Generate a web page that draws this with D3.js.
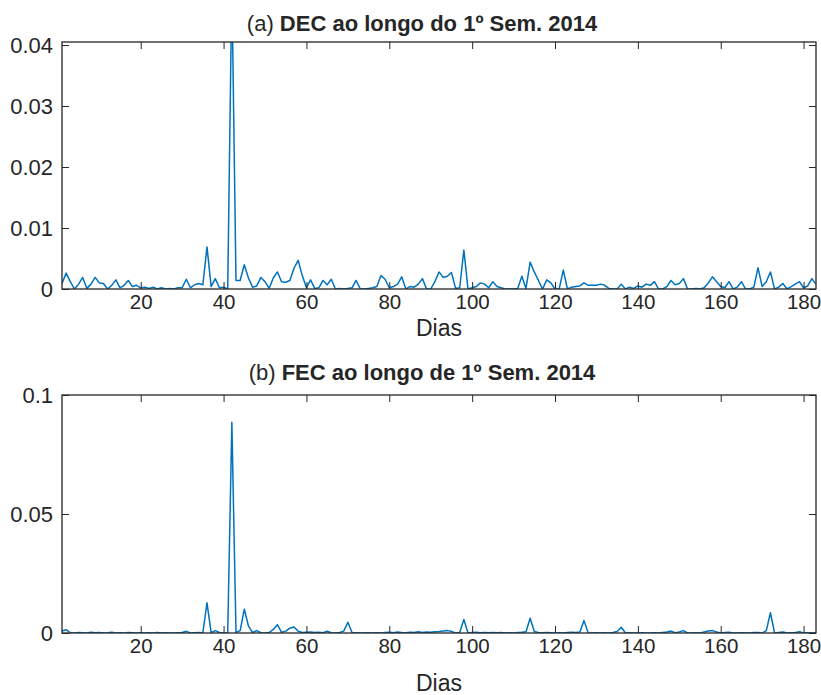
<!DOCTYPE html>
<html>
<head>
<meta charset="utf-8">
<script src="https://cdn.jsdelivr.net/npm/d3@7"></script>
<style>
  body { margin: 0; background: #fff; }
  text { font-family: "Liberation Sans", Arial, Helvetica, sans-serif; fill: #262626; }
</style>
</head>
<body>
<svg id="chart" width="821" height="695"></svg>
<script>
// Daily indicators over the first semester of 2014 (day 1 .. 183)
const decValues = [
  0.0009, 0.0026, 0.0012, 0, 0.0008, 0.0019, 0.0001, 0.0008, 0.0019, 0.0010,
  0.0009, 0, 0.0006, 0.0015, 0.0002, 0.0006, 0.0014, 0.0004, 0.0006, 0.0002,
  0.0003, 0.0001, 0.0003, 0, 0.0002, 0, 0.0001, 0, 0.0002, 0.0002,
  0.0016, 0.0002, 0.0007, 0.0009, 0.0007, 0.0069, 0.0004, 0.0017, 0.0002, 0.0003,
  0, 0.0500, 0.0014, 0.0014, 0.0040, 0.0018, 0.0003, 0.0005, 0.0019, 0.0012,
  0.0001, 0.0018, 0.0028, 0.0012, 0.0011, 0.0014, 0.0034, 0.0047, 0.0022, 0.0002,
  0.0015, 0.0001, 0.0002, 0.0014, 0.0007, 0.0016, 0, 0.0001, 0, 0.0001,
  0.0002, 0.0014, 0, 0, 0.0001, 0.0002, 0.0004, 0.0022, 0.0016, 0.0002,
  0.0004, 0.0008, 0.0020, 0, 0.0004, 0.0003, 0.0008, 0.0017, 0, 0,
  0.0012, 0.0028, 0.0019, 0.0021, 0.0027, 0.0001, 0.0002, 0.0064, 0, 0.0002,
  0.0004, 0.0010, 0.0008, 0.0002, 0.0012, 0.0004, 0.0002, 0, 0, 0,
  0.0001, 0.0021, 0.0001, 0.0044, 0.0028, 0.0014, 0, 0.0015, 0.0010, 0,
  0, 0.0031, 0, 0.0003, 0.0004, 0.0005, 0.0010, 0.0006, 0.0006, 0.0006,
  0.0008, 0.0006, 0.0001, 0, 0, 0.0008, 0, 0.0003, 0.0001, 0.0005,
  0.0003, 0.0008, 0.0006, 0.0012, 0, 0, 0.0004, 0.0014, 0.0007, 0.0009,
  0.0017, 0, 0, 0.0001, 0, 0.0002, 0.0010, 0.0020, 0.0012, 0.0004,
  0.0002, 0.0012, 0, 0.0003, 0.0012, 0, 0, 0.0003, 0.0035, 0.0004,
  0.0012, 0.0028, 0, 0.0003, 0.0009, 0, 0.0004, 0.0008, 0.0012, 0.0002,
  0.0005, 0.0017, 0.0008
];

const fecValues = [
  0.0008, 0.0014, 0.0001, 0, 0.0002, 0.0001, 0, 0.0003, 0.0001, 0.0002,
  0, 0.0001, 0.0003, 0, 0.0001, 0, 0.0002, 0.0001, 0, 0.0001,
  0, 0.0001, 0, 0.0002, 0, 0.0001, 0, 0, 0.0001, 0.0002,
  0.0007, 0, 0.0001, 0.0002, 0.0001, 0.0127, 0.0002, 0.0010, 0.0002, 0,
  0, 0.0885, 0.0002, 0.0010, 0.0100, 0.0030, 0.0002, 0.0010, 0.0001, 0,
  0.0002, 0.0015, 0.0035, 0.0003, 0.0008, 0.0020, 0.0025, 0.0008, 0.0002, 0.0003,
  0.0004, 0.0002, 0.0003, 0.0001, 0.0007, 0.0001, 0, 0.0002, 0.0008, 0.0045,
  0.0002, 0.0001, 0, 0, 0.0001, 0, 0.0001, 0, 0.0002, 0.0003,
  0.0001, 0.0004, 0.0002, 0.0001, 0.0003, 0.0002, 0.0005, 0.0002, 0.0004, 0.0003,
  0.0005, 0.0006, 0.0008, 0.0010, 0.0007, 0, 0.0002, 0.0057, 0, 0.0002,
  0.0003, 0.0001, 0.0002, 0.0001, 0.0002, 0.0001, 0.0002, 0, 0.0001, 0,
  0.0002, 0.0003, 0.0005, 0.0062, 0.0006, 0.0002, 0.0001, 0.0002, 0.0001, 0,
  0.0001, 0, 0.0002, 0.0003, 0.0002, 0.0004, 0.0052, 0.0001, 0, 0.0001,
  0, 0.0001, 0, 0.0002, 0.0006, 0.0024, 0, 0.0001, 0, 0,
  0.0001, 0, 0, 0.0001, 0, 0.0002, 0.0004, 0.0008, 0.0001, 0.0004,
  0.0010, 0, 0, 0.0001, 0, 0.0004, 0.0008, 0.0010, 0.0004, 0,
  0.0002, 0.0003, 0, 0, 0.0001, 0, 0, 0.0002, 0.0002, 0,
  0.0010, 0.0085, 0, 0.0002, 0.0004, 0, 0.0001, 0.0002, 0.0005, 0,
  0.0001, 0, 0
];

const xTickValues = [20, 40, 60, 80, 100, 120, 140, 160, 180];
const decTickValues = [0, 0.01, 0.02, 0.03, 0.04];
const fecTickValues = [0, 0.05, 0.1];
const xLabel = "Dias";

const panels = [
  { tag: "(a)", title: "DEC ao longo do 1º Sem. 2014", values: decValues, yMax: 0.0405, ticks: decTickValues },
  { tag: "(b)", title: "FEC ao longo de 1º Sem. 2014", values: fecValues, yMax: 0.1, ticks: fecTickValues }
];

// layout of the two stacked axes
const frames = [
  { top: 42, bottom: 289, titleY: 31, xLabelY: 336 },
  { top: 395, bottom: 633, titleY: 380, xLabelY: 691 }
];
const left = 62, right = 816, tickLen = 7;
const lineColor = "#0072BD", axisColor = "#262626";

const svg = d3.select("#chart");
const x = d3.scaleLinear().domain([1, decValues.length]).range([left, right]);

panels.forEach((p, i) => {
  const f = frames[i];
  const y = d3.scaleLinear().domain([0, p.yMax]).range([f.bottom, f.top]);
  const g = svg.append("g");

  const clipId = "clip" + i;
  g.append("clipPath").attr("id", clipId)
    .append("rect").attr("x", left).attr("y", f.top)
    .attr("width", right - left).attr("height", f.bottom - f.top);

  // series
  const line = d3.line().x((d, k) => x(k + 1)).y(d => y(d));
  g.append("path").datum(p.values)
    .attr("clip-path", `url(#${clipId})`)
    .attr("fill", "none").attr("stroke", lineColor)
    .attr("stroke-width", 1.5).attr("stroke-linejoin", "round")
    .attr("d", line);

  // axes with inward ticks on all four sides
  const styleAxis = sel => {
    sel.select(".domain").remove();
    sel.selectAll(".tick line").attr("stroke", axisColor).attr("stroke-width", 1);
    sel.selectAll(".tick text").attr("fill", axisColor)
      .style("font-family", '"Liberation Sans", Arial, sans-serif');
  };

  g.append("g").attr("transform", `translate(0,${f.bottom})`)
    .call(d3.axisBottom(x).tickValues(xTickValues).tickSizeInner(-tickLen).tickSizeOuter(0).tickPadding(5))
    .call(styleAxis)
    .selectAll(".tick text").attr("font-size", 20.5);

  g.append("g").attr("transform", `translate(0,${f.top})`)
    .call(d3.axisTop(x).tickValues(xTickValues).tickSizeInner(-tickLen).tickSizeOuter(0).tickFormat(""))
    .call(styleAxis);

  g.append("g").attr("transform", `translate(${left},0)`)
    .call(d3.axisLeft(y).tickValues(p.ticks).tickSizeInner(-tickLen).tickSizeOuter(0).tickPadding(9).tickFormat(d => String(d)))
    .call(styleAxis)
    .selectAll(".tick text").attr("font-size", 22);

  g.append("g").attr("transform", `translate(${right},0)`)
    .call(d3.axisRight(y).tickValues(p.ticks).tickSizeInner(-tickLen).tickSizeOuter(0).tickFormat(""))
    .call(styleAxis);

  // box
  g.append("rect").attr("x", left).attr("y", f.top)
    .attr("width", right - left).attr("height", f.bottom - f.top)
    .attr("fill", "none").attr("stroke", axisColor).attr("stroke-width", 1.3);

  // title: tag in regular weight, remainder bold
  const t = g.append("text").attr("x", 422).attr("y", f.titleY)
    .attr("text-anchor", "middle").attr("font-size", 22);
  t.append("tspan").text(p.tag + " ");
  t.append("tspan").attr("font-weight", "bold").text(p.title);

  // x label
  g.append("text").attr("x", (left + right) / 2).attr("y", f.xLabelY)
    .attr("text-anchor", "middle").attr("font-size", 23).text(xLabel);
});
</script>
</body>
</html>
